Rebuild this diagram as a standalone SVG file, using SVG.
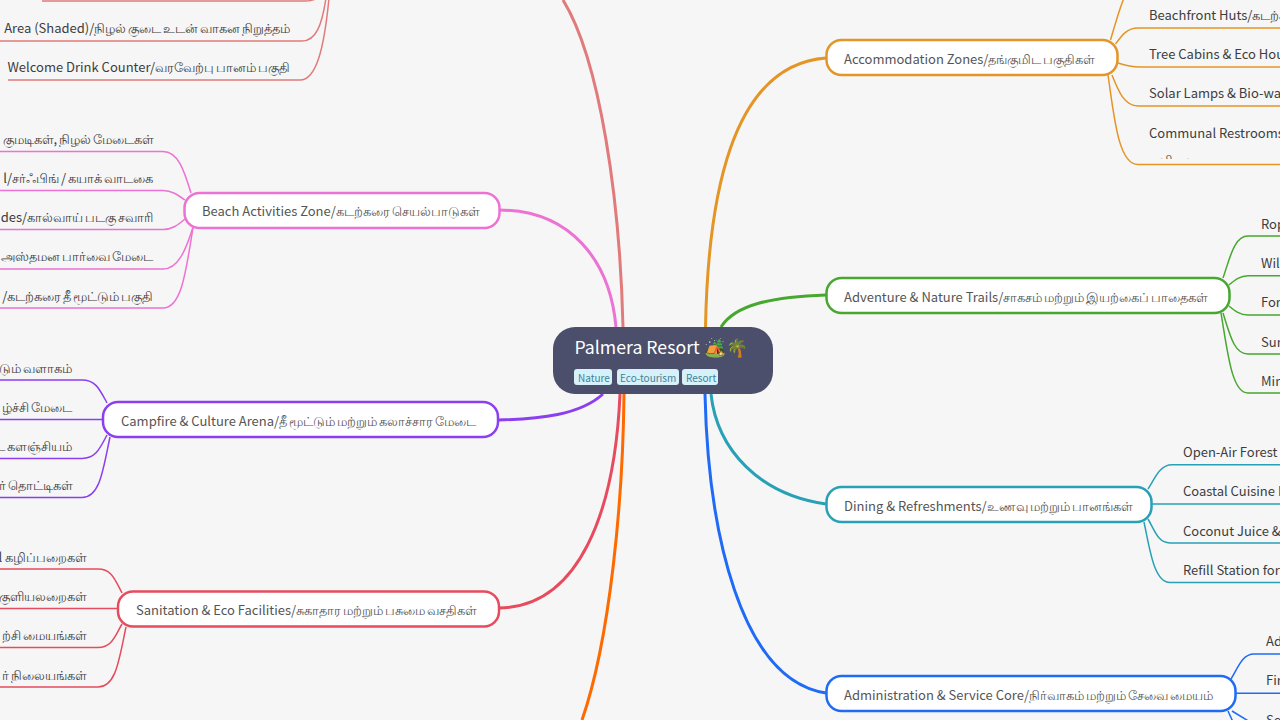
<svg xmlns="http://www.w3.org/2000/svg" width="1280" height="720" viewBox="0 0 1280 720">
<style>
text{font-family:"Noto Sans CJK SC","Noto Sans",sans-serif;font-size:13px;fill:#3d3d3d}
.t{word-spacing:-1px}
.n{fill:#fff;stroke-width:2.500}
.nt{fill:#555}
.e{text-anchor:end}
.c{fill:none;stroke-width:1.500}
.m{fill:none;stroke-width:3}
.tag{fill:#d6f1f9}
.tt{font-size:10px;fill:#3f8197}
.salmon{stroke:#e17b7b}.pink{stroke:#ec72d3}.purple{stroke:#8b3ff0}.red{stroke:#e64b5e}.oranger{stroke:#ff6a00}.orange{stroke:#e39526}.green{stroke:#47a72f}.teal{stroke:#28a0b6}.blue{stroke:#1f6bf5}
</style>
<defs><clipPath id="clipCommunal"><rect x="1140" y="120" width="140" height="39"/></clipPath></defs>
<rect width="1280" height="720" fill="#f6f6f6"/>
<g id="connectors">
<path class="m salmon" d="M623 327C620 200 600 60 563 0"/>
<path class="m pink" d="M616 327C610 260 570 210 499 210"/>
<path class="m purple" d="M603 394C580 415 540 419 498 420"/>
<path class="m red" d="M620 394C615 510 580 607 499 608"/>
<path class="m oranger" d="M624 394C623 500 610 640 582 720"/>
<path class="m orange" d="M705.500 327C708 200 730 65 826 58"/>
<path class="m green" d="M721 327C735 305 770 297 826 295"/>
<path class="m teal" d="M711 394C717 450 760 495 826 504"/>
<path class="m blue" d="M705 394C708 530 740 680 826 693"/>
<g class="salmon">
<path class="c" d="M42 1L306 1Q316 1 322 -6"/>
<path class="c" d="M0 41L302 41C316 41 322 25 326 -2"/>
<path class="c" d="M8 80L300 80C316 80 324 50 329 -2"/>
</g>
<g class="pink">
<path class="c" d="M191 193C184 170 178 151.500 163 151.500L0 151.500"/>
<path class="c" d="M185 200C178 195 172 190.500 163 190.500L0 190.500"/>
<path class="c" d="M185 219C178 225 172 229.500 163 229.500L0 229.500"/>
<path class="c" d="M193 227C186 250 178 269 163 269L0 269"/>
<path class="c" d="M193 228C186 270 182 308 163 308L0 308"/>
</g>
<g class="purple">
<path class="c" d="M107 403C100 390 96 380 82 380L0 380"/>
<path class="c" d="M103 419.500L0 419.500"/>
<path class="c" d="M107 435C100 448 96 458.500 82 458.500L0 458.500"/>
<path class="c" d="M110 437C103 470 100 497.500 82 497.500L0 497.500"/>
</g>
<g class="red">
<path class="c" d="M122 593C115 580 112 569 98 569L0 569"/>
<path class="c" d="M118 608.500L0 608.500"/>
<path class="c" d="M122 624C115 636 112 647.500 98 647.500L0 647.500"/>
<path class="c" d="M126 627C119 660 116 687 98 687L0 687"/>
</g>
<g class="orange">
<path class="c" d="M1110.500 40C1115 25 1119 10 1124 -2"/>
<path class="c" d="M1115.500 44C1122 35 1127 28 1138 28L1280 28"/>
<path class="c" d="M1118 63C1124 65 1130 67 1140 67L1280 67"/>
<path class="c" d="M1112 75C1118 90 1124 106 1138 106L1280 106"/>
<path class="c" d="M1108 75C1114 115 1118 164.500 1138 164.500L1280 164.500"/>
</g>
<g class="green">
<path class="c" d="M1223 278C1230 258 1234 236 1248 236L1280 236"/>
<path class="c" d="M1229 285C1235 280 1240 275.700 1248 275.700L1280 275.700"/>
<path class="c" d="M1229 306C1235 311 1240 315 1248 315L1280 315"/>
<path class="c" d="M1223 313C1230 335 1234 354 1248 354L1280 354"/>
<path class="c" d="M1221 313C1228 355 1232 393 1248 393L1280 393"/>
</g>
<g class="teal">
<path class="c" d="M1148 489C1155 478 1160 464.700 1172 464.700L1280 464.700"/>
<path class="c" d="M1152 504L1280 504"/>
<path class="c" d="M1148 519C1155 531 1158 543 1170 543L1280 543"/>
<path class="c" d="M1144 522C1150 550 1154 582.500 1170 582.500L1280 582.500"/>
</g>
<g class="blue">
<path class="c" d="M1231 679C1238 668 1242 654 1254 654L1280 654"/>
<path class="c" d="M1236 693.300L1280 693.300"/>
<path class="c" d="M1228 711L1233 722"/>
<path class="c" d="M1232 711L1250 722"/>
</g>
</g>
<g id="center">
<rect x="553" y="327" width="220" height="67" rx="22" fill="#4c4f6b"/>
<text x="574.500" y="354" style="font-size:17.700px;fill:#fff">Palmera Resort 🏕️🌴</text>
<rect class="tag" x="574" y="369" width="38" height="16" rx="3"/><text class="tt" x="578" y="381.500">Nature</text>
<rect class="tag" x="617" y="369" width="62" height="16" rx="3"/><text class="tt" x="620" y="381.500">Eco-tourism</text>
<rect class="tag" x="682" y="369" width="36" height="16" rx="3"/><text class="tt" x="686" y="381.500">Resort</text>
</g>
<g id="node-arrival-leaves">
<text class="e" x="290" y="33">Area (Shaded)/<tspan class="t">நிழல் குடை உடன் வாகன நிறுத்தம்</tspan></text>
<text class="e" x="290" y="72">Welcome Drink Counter/<tspan class="t">வரவேற்பு பானம் பகுதி</tspan></text>
</g>
<g id="node-beach">
<rect class="n pink" x="184.500" y="193" width="315" height="35" rx="15"/>
<text class="nt" x="202" y="216">Beach Activities Zone/<tspan class="t">கடற்கரை செயல்பாடுகள்</tspan></text>
<text class="e t" x="154" y="144">குமடிகள், நிழல் மேடைகள்</text>
<text class="e" x="153" y="183">l/<tspan class="t">சர்ஃபிங் / கயாக் வாடகை</tspan></text>
<text class="e" x="153" y="222">des/<tspan class="t">கால்வாய் படகு சவாரி</tspan></text>
<text class="e t" x="153" y="261">அஸ்தமன பார்வை மேடை</text>
<text class="e" x="153" y="301">/<tspan class="t">கடற்கரை தீ மூட்டும் பகுதி</tspan></text>
</g>
<g id="node-campfire">
<rect class="n purple" x="103" y="402" width="395" height="35" rx="15"/>
<text class="nt" x="121" y="426">Campfire &amp; Culture Arena/<tspan class="t">தீ மூட்டும் மற்றும் கலாச்சார மேடை</tspan></text>
<text class="e t" x="72" y="373">டும் வளாகம்</text>
<text class="e t" x="72" y="412">ழ்ச்சி மேடை</text>
<text class="e t" x="72" y="451">ட களஞ்சியம்</text>
<text class="e t" x="73" y="490">ர் தொட்டிகள்</text>
</g>
<g id="node-sanitation">
<rect class="n red" x="118" y="591.500" width="381" height="35" rx="15"/>
<text class="nt" x="136" y="615">Sanitation &amp; Eco Facilities/<tspan class="t">சுகாதார மற்றும் பசுமை வசதிகள்</tspan></text>
<text class="e" x="87" y="562">l <tspan class="t">கழிப்பறைகள்</tspan></text>
<text class="e t" x="87" y="601">குளியலறைகள்</text>
<text class="e t" x="87" y="640">ற்சி மையங்கள்</text>
<text class="e t" x="87" y="680">ர் நிலையங்கள்</text>
</g>
<g id="node-accommodation">
<rect class="n orange" x="826.500" y="40" width="291" height="35" rx="15"/>
<text class="nt" x="844" y="64">Accommodation Zones/<tspan class="t">தங்குமிட பகுதிகள்</tspan></text>
<text x="1149" y="20">Beachfront Huts/<tspan class="t">கடற்க</tspan></text>
<text x="1149" y="59">Tree Cabins &amp; Eco Hou</text>
<text x="1149" y="98">Solar Lamps &amp; Bio-was</text>
<text x="1149" y="138">Communal Restrooms</text>
<text class="t" x="1149" y="164.500" clip-path="url(#clipCommunal)">தனியலறை</text>
</g>
<g id="node-adventure">
<rect class="n green" x="826.500" y="278" width="403" height="35" rx="15"/>
<text class="nt" x="844" y="302">Adventure &amp; Nature Trails/<tspan class="t">சாகசம் மற்றும் இயற்கைப் பாதைகள்</tspan></text>
<text x="1261" y="229">Rop</text>
<text x="1261" y="268">Wil</text>
<text x="1261" y="307">For</text>
<text x="1261" y="347">Sur</text>
<text x="1261" y="386">Min</text>
</g>
<g id="node-dining">
<rect class="n teal" x="826.500" y="487" width="325" height="35" rx="15"/>
<text class="nt" x="844" y="511">Dining &amp; Refreshments/<tspan class="t">உணவு மற்றும் பானங்கள்</tspan></text>
<text x="1183" y="457">Open-Air Forest</text>
<text x="1183" y="496">Coastal Cuisine H</text>
<text x="1183" y="536">Coconut Juice &amp;</text>
<text x="1183" y="575">Refill Station for</text>
</g>
<g id="node-admin">
<rect class="n blue" x="826.500" y="676" width="409" height="35" rx="15"/>
<text class="nt" x="844" y="700">Administration &amp; Service Core/<tspan class="t">நிர்வாகம் மற்றும் சேவை மையம்</tspan></text>
<text x="1266" y="646">Ad</text>
<text x="1266" y="685">Fir</text>
<text x="1266" y="725">Se</text>
</g>
</svg>
